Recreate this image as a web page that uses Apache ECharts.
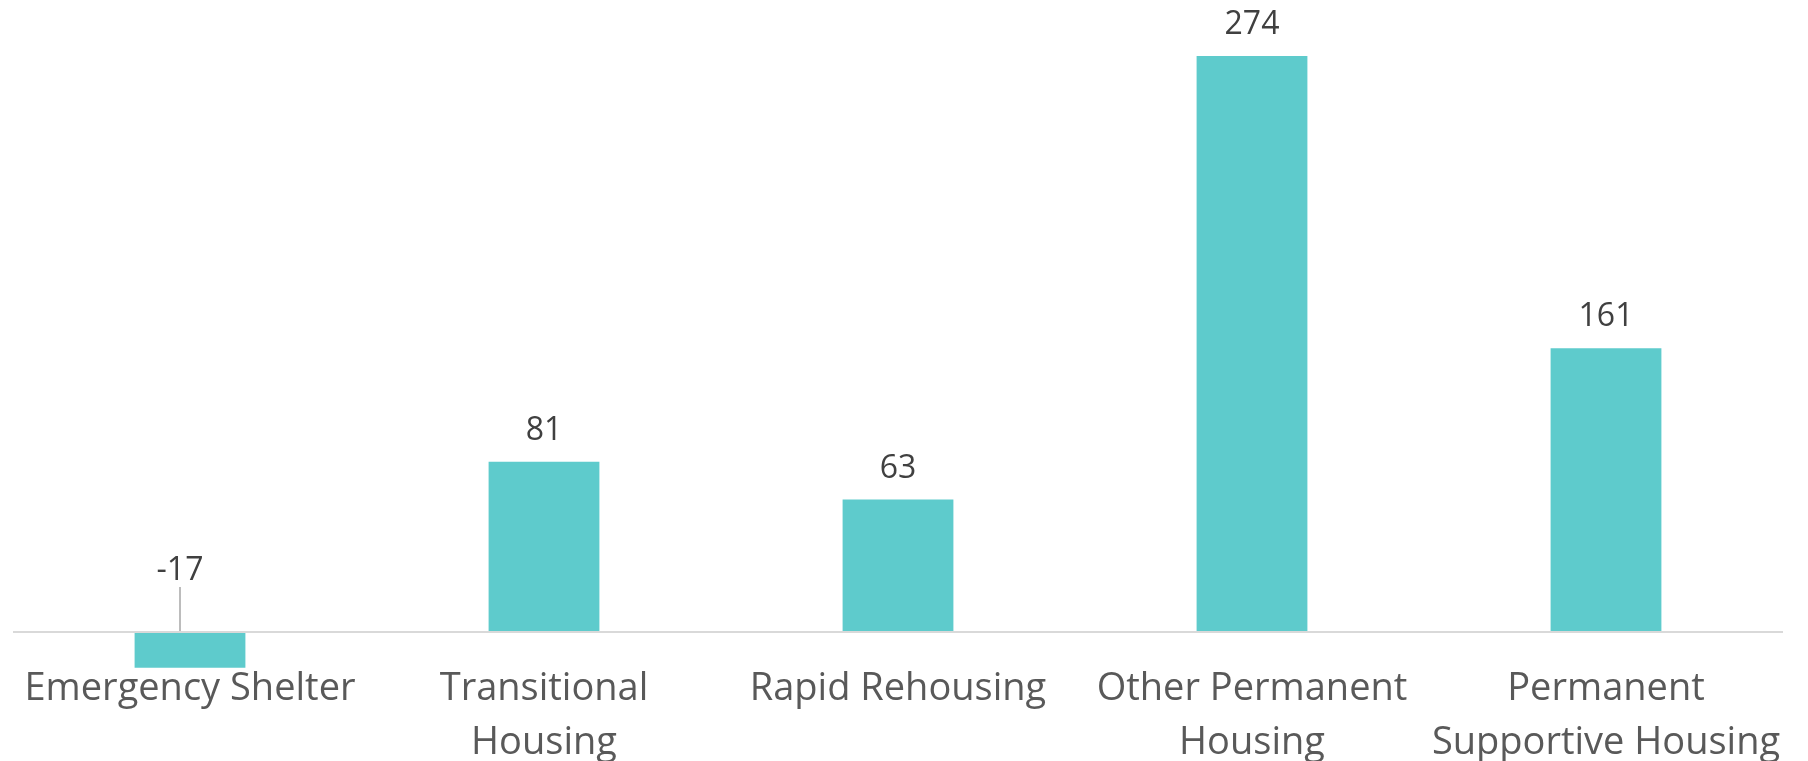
<!DOCTYPE html>
<html>
<head>
<meta charset="utf-8">
<script src="https://cdn.jsdelivr.net/npm/echarts@6/dist/echarts.min.js"></script>
<style>
html,body{margin:0;padding:0;background:#fff;}
#chart{width:1808px;height:761px;}
</style>
</head>
<body>
<div id="chart"></div>
<script>
const categories = [
  "Emergency Shelter",
  "Transitional\nHousing",
  "Rapid Rehousing",
  "Other Permanent\nHousing",
  "Permanent\nSupportive Housing"
];
// bar heights as drawn in the picture
const values = [-17, 81, 63, 274, 135];
// data label texts as printed in the picture
const labelTexts = ["-17", "81", "63", "274", "161"];

const seriesData = values.map(function (v, i) {
  if (v < 0) {
    return { value: v, labelLine: { show: true } };
  }
  return v;
});

const chart = echarts.init(document.getElementById('chart'));
chart.setOption({
  animation: false,
  grid: { left: 13, right: 25, top: 56, bottom: 93.3, containLabel: false, outerBoundsMode: 'none' },
  xAxis: {
    type: 'category',
    data: categories,
    axisLine: { show: false },
    axisTick: { show: false },
    axisLabel: {
      margin: -6,
      fontFamily: 'Open Sans',
      fontSize: 38,
      lineHeight: 54,
      color: '#595959',
      interval: 0
    }
  },
  yAxis: {
    type: 'value',
    min: -17,
    max: 274,
    show: false,
    splitLine: { show: false }
  },
  series: [{
    type: 'bar',
    data: seriesData,
    barWidth: '31.3%',
    itemStyle: { color: '#5ECBCC' },
    label: {
      show: true,
      position: 'top',
      distance: 15,
      fontFamily: 'Open Sans',
      fontSize: 32,
      color: '#404040',
      formatter: function (p) { return labelTexts[p.dataIndex]; }
    },
    labelLine: { show: false, lineStyle: { color: '#A6A6A6', width: 1.5 } },
    labelLayout: function (p) {
      if (values[p.dataIndex] < 0) {
        return { dx: -10, dy: -30 };
      }
      return {};
    },
    markLine: {
      silent: true,
      symbol: 'none',
      label: { show: false },
      lineStyle: { color: '#D9D9D9', width: 2, type: 'solid' },
      data: [{ yAxis: 0 }]
    }
  }]
});
</script>
</body>
</html>
